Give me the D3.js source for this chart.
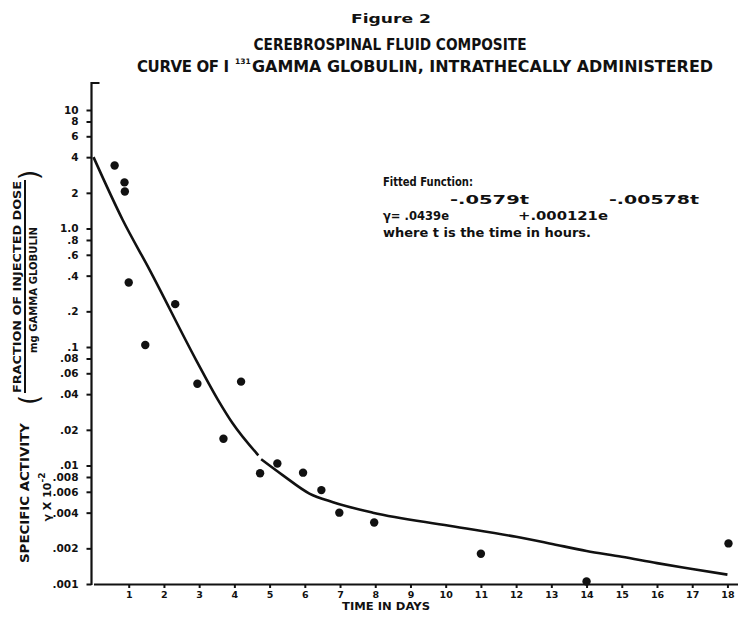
<!DOCTYPE html>
<html>
<head>
<meta charset="utf-8">
<script src="https://cdn.jsdelivr.net/npm/d3@7"></script>
<style>
  body { margin: 0; background: #fff; }
  svg text { font-family: "DejaVu Sans", sans-serif; fill: #111; font-weight: bold; }
</style>
</head>
<body>
<div class="diagram-canvas"></div>
<script>
const dayTicks = [1, 2, 3, 4, 5, 6, 7, 8, 9, 10, 11, 12, 13, 14, 15, 16, 17, 18];
const activityTicks = [10, 8, 6, 4, 2, 1, 0.8, 0.6, 0.4, 0.2, 0.1, 0.08, 0.06, 0.04, 0.02,
  0.01, 0.008, 0.006, 0.004, 0.002, 0.001];
const activityLabels = ["10", "8", "6", "4", "2", "1.0", ".8", ".6", ".4", ".2", ".1", ".08", ".06",
  ".04", ".02", ".01", ".008", ".006", ".004", ".002", ".001"];

// observed points
const pointDays = [0.6, 0.88, 0.89, 1.0, 1.47, 2.32, 2.95, 4.19, 3.69, 4.73, 5.22, 5.95, 6.47,
  6.98, 7.97, 11.0, 14.0, 18.03];
const pointActivity = [3.4, 2.45, 2.05, 0.35, 0.104, 0.23, 0.049, 0.051, 0.0168, 0.0086, 0.0104,
  0.0087, 0.0062, 0.0040, 0.0033, 0.0018, 0.00105, 0.0022];

// fitted curve (drawn in two strokes in the original)
const curveDaysA = [0, 0.83, 1.59, 2.91, 3.53, 3.95, 4.68];
const curveActivityA = [4.0, 1.18, 0.45, 0.078, 0.036, 0.0227, 0.0122];
const curveDaysB = [4.76, 5.37, 6.13, 6.8, 7.93, 10.1, 12.0, 12.95, 14.0, 15.0, 16.0, 17.0, 18.0];
const curveActivityB = [0.0113, 0.0083, 0.0058, 0.0049, 0.0040, 0.0031, 0.0025, 0.0022, 0.0019,
  0.0017, 0.0015, 0.00134, 0.0012];

function chartFigure() {
  let width = 738,
    height = 620,
    ink = "#111";

  let xScale = d3.scaleLinear().domain([0, 18.3]).range([93.5, 738]);
  let yScale = d3.scaleLog().domain([0.001, 10]).range([584, 110]);

  let svg = d3
    .select(".diagram-canvas")
    .append("svg")
    .attr("width", width)
    .attr("height", height);

  // titles
  svg.append("text")
    .attr("x", 391).attr("y", 23)
    .attr("text-anchor", "middle")
    .style("font-size", "13px")
    .attr("textLength", 80).attr("lengthAdjust", "spacingAndGlyphs")
    .text("Figure 2");
  svg.append("text")
    .attr("x", 390).attr("y", 50)
    .attr("text-anchor", "middle")
    .style("font-size", "16px")
    .attr("textLength", 273).attr("lengthAdjust", "spacingAndGlyphs")
    .text("CEREBROSPINAL FLUID COMPOSITE");
  svg.append("text")
    .attr("x", 137).attr("y", 72)
    .style("font-size", "15px")
    .style("letter-spacing", "-0.4px")
    .text("CURVE OF I");
  svg.append("text")
    .attr("x", 235).attr("y", 64)
    .style("font-size", "7.5px")
    .text("131");
  svg.append("text")
    .attr("x", 252).attr("y", 72)
    .style("font-size", "16px")
    .attr("textLength", 461).attr("lengthAdjust", "spacingAndGlyphs")
    .text("GAMMA GLOBULIN, INTRATHECALLY ADMINISTERED");

  // axes
  let xAxis = d3.axisBottom(xScale).tickValues(dayTicks).tickSize(4).tickSizeOuter(0).tickPadding(3);
  let gx = svg.append("g")
    .attr("id", "x-axis")
    .attr("transform", "translate(0," + yScale(0.001) + ")")
    .call(xAxis);
  gx.select(".domain").attr("stroke", ink).attr("stroke-width", 2.2);
  gx.selectAll(".tick line").attr("stroke", ink).attr("stroke-width", 2);
  gx.selectAll(".tick text")
    .attr("fill", ink)
    .style("font-family", "DejaVu Sans")
    .style("font-size", "9.5px")
    .style("font-weight", "bold");

  let x0 = xScale(0) - 2;
  let yAxis = d3.axisLeft(yScale)
    .tickValues(activityTicks)
    .tickFormat((d, i) => activityLabels[i])
    .tickSize(5).tickSizeOuter(0).tickPadding(8);
  let gy = svg.append("g")
    .attr("id", "y-axis")
    .attr("transform", "translate(" + x0 + ",0)")
    .call(yAxis);
  gy.select(".domain").remove();
  gy.selectAll(".tick line").attr("stroke", ink).attr("stroke-width", 2);
  gy.selectAll(".tick text")
    .attr("fill", ink)
    .style("font-family", "DejaVu Sans")
    .style("font-size", "10.5px")
    .style("font-weight", "bold");
  let yTop = yScale(10) - 27;
  svg.append("path")
    .attr("d", "M" + (x0 + 8) + "," + yTop + "H" + x0 + "V" + (yScale(0.001) + 1))
    .attr("fill", "none")
    .attr("stroke", ink)
    .attr("stroke-width", 2.2);

  // axis titles
  svg.append("text")
    .attr("x", 386).attr("y", 610)
    .attr("text-anchor", "middle")
    .style("font-size", "10px")
    .attr("textLength", 88).attr("lengthAdjust", "spacingAndGlyphs")
    .text("TIME IN DAYS");

  let ylab = svg.append("g").attr("transform", "rotate(-90)");
  ylab.append("text")
    .attr("x", -493).attr("y", 29)
    .attr("text-anchor", "middle")
    .style("font-size", "12px")
    .attr("textLength", 140).attr("lengthAdjust", "spacingAndGlyphs")
    .text("SPECIFIC ACTIVITY");
  let gam = ylab.append("text")
    .attr("x", -497).attr("y", 51)
    .attr("text-anchor", "middle")
    .style("font-size", "11px");
  gam.append("tspan").text("\u03b3 X 10");
  gam.append("tspan").attr("dy", -6).style("font-size", "9px").text("-2");
  ylab.append("text")
    .attr("x", -400).attr("y", 38)
    .attr("text-anchor", "middle")
    .style("font-size", "26px")
    .style("font-weight", "normal")
    .text("(");
  ylab.append("text")
    .attr("x", -175).attr("y", 38)
    .attr("text-anchor", "middle")
    .style("font-size", "26px")
    .style("font-weight", "normal")
    .text(")");
  ylab.append("text")
    .attr("x", -287).attr("y", 21)
    .attr("text-anchor", "middle")
    .style("font-size", "11px")
    .attr("textLength", 212).attr("lengthAdjust", "spacingAndGlyphs")
    .text("FRACTION OF INJECTED DOSE");
  ylab.append("line")
    .attr("x1", -393).attr("x2", -180)
    .attr("y1", 25).attr("y2", 25)
    .attr("stroke", ink).attr("stroke-width", 2);
  ylab.append("text")
    .attr("x", -290).attr("y", 37)
    .attr("text-anchor", "middle")
    .style("font-size", "11px")
    .attr("textLength", 126).attr("lengthAdjust", "spacingAndGlyphs")
    .text("mg GAMMA GLOBULIN");

  // fitted function note
  let note = svg.append("g").style("font-size", "12.5px");
  note.append("text")
    .attr("x", 383).attr("y", 186)
    .attr("textLength", 90).attr("lengthAdjust", "spacingAndGlyphs")
    .text("Fitted Function:");
  note.append("text")
    .attr("x", 383).attr("y", 220)
    .attr("textLength", 66).attr("lengthAdjust", "spacingAndGlyphs")
    .text("\u03b3= .0439e");
  note.append("text")
    .attr("x", 450).attr("y", 204)
    .attr("textLength", 79).attr("lengthAdjust", "spacingAndGlyphs")
    .text("-.0579t");
  note.append("text")
    .attr("x", 518).attr("y", 220)
    .attr("textLength", 90).attr("lengthAdjust", "spacingAndGlyphs")
    .text("+.000121e");
  note.append("text")
    .attr("x", 609).attr("y", 204)
    .attr("textLength", 90).attr("lengthAdjust", "spacingAndGlyphs")
    .text("-.00578t");
  note.append("text")
    .attr("x", 383).attr("y", 237)
    .attr("textLength", 208).attr("lengthAdjust", "spacingAndGlyphs")
    .text("where t is the time in hours.");

  // fitted curve
  const curveParts = [
    { days: curveDaysA, values: curveActivityA },
    { days: curveDaysB, values: curveActivityB },
  ];
  svg.selectAll("path.fit")
    .data(curveParts)
    .enter()
    .append("path")
    .attr("class", "fit")
    .attr("d", (p) =>
      d3.line()
        .x((d, i) => xScale(p.days[i]))
        .y((d, i) => yScale(p.values[i]))
        .curve(d3.curveMonotoneX)(p.days)
    )
    .attr("fill", "none")
    .attr("stroke", ink)
    .attr("stroke-width", 2.6)
    .attr("stroke-linejoin", "round");

  // observations
  svg.selectAll("circle.dot")
    .data(pointDays)
    .enter()
    .append("circle")
    .attr("class", "dot")
    .attr("cx", (d, i) => xScale(pointDays[i]))
    .attr("cy", (d, i) => yScale(pointActivity[i]))
    .attr("r", 4.2)
    .attr("fill", ink);
}

chartFigure();
</script>
</body>
</html>
